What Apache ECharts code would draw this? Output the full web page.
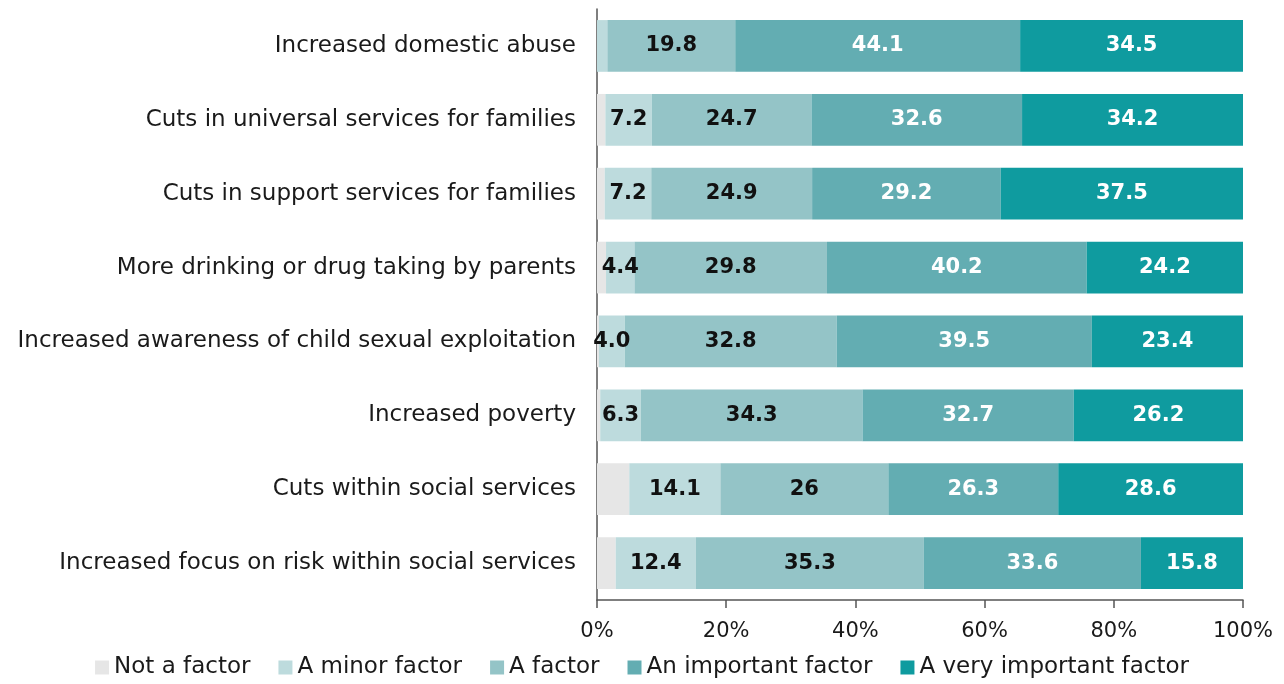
<!DOCTYPE html>
<html><head><meta charset="utf-8">
<script src="https://cdn.jsdelivr.net/npm/echarts@6/dist/echarts.min.js"></script>
<style>html,body{margin:0;padding:0;background:#fff}#c{width:1284px;height:684px}</style>
</head><body><div id="c"></div>
<script>
const categories = [
  'Increased domestic abuse',
  'Cuts in universal services for families',
  'Cuts in support services for families',
  'More drinking or drug taking by parents',
  'Increased awareness of child sexual exploitation',
  'Increased poverty',
  'Cuts within social services',
  'Increased focus on risk within social services'
];
const seriesNames = ['Not a factor','A minor factor','A factor','An important factor','A very important factor'];
const notFactor = ['0','1.3','1.2','1.4','0.3','0.5','5.0','2.9'];
const minorFactor = ['1.6','7.2','7.2','4.4','4.0','6.3','14.1','12.4'];
const aFactor = ['19.8','24.7','24.9','29.8','32.8','34.3','26','35.3'];
const importantFactor = ['44.1','32.6','29.2','40.2','39.5','32.7','26.3','33.6'];
const veryImportant = ['34.5','34.2','37.5','24.2','23.4','26.2','28.6','15.8'];
const xTicks = [0,20,40,60,80,100];

const colors = ['#e6e6e6','#bddbdd','#94c4c7','#63adb2','#0f9b9f'];
const labelColors = [null,'#111','#111','#fff','#fff'];
const allData = [notFactor, minorFactor, aFactor, importantFactor, veryImportant];
const FONT = '"DejaVu Sans", sans-serif';

const chart = echarts.init(document.getElementById('c'));
chart.setOption({
  animation: false,
  grid: {left: 597, right: 41, top: 9, bottom: 84, containLabel: false},
  legend: {
    bottom: 0, left: 'center', itemWidth: 14, itemHeight: 14, itemGap: 28,
    icon: 'rect',
    textStyle: {fontFamily: FONT, fontSize: 23, color: '#1a1a1a'},
    data: seriesNames
  },
  xAxis: {
    type: 'value', min: 0, max: 100, interval: 20,
    axisLine: {show: true, lineStyle: {color: '#555', width: 1.5}},
    axisTick: {show: true, length: 8, lineStyle: {color: '#555', width: 1.5}},
    splitLine: {show: false},
    axisLabel: {fontFamily: FONT, fontSize: 21, color: '#1a1a1a', margin: 21, formatter: v => xTicks.includes(v) ? v + '%' : ''}
  },
  yAxis: {
    type: 'category', data: categories, inverse: true,
    axisLine: {show: true, lineStyle: {color: '#555', width: 1.5}},
    axisTick: {show: false},
    axisLabel: {fontFamily: FONT, fontSize: 23, color: '#1a1a1a', margin: 21}
  },
  series: allData.map((d, i) => ({
    name: seriesNames[i], type: 'bar', stack: 'all', barWidth: '70%',
    itemStyle: {color: colors[i]},
    data: d,
    label: {
      show: i > 0, position: 'inside', fontFamily: FONT, fontWeight: 'bold', fontSize: 21,
      color: labelColors[i] || '#111',
      formatter: p => (parseFloat(p.data) < 2 ? '' : String(p.data))
    }
  }))
});
</script></body></html>
